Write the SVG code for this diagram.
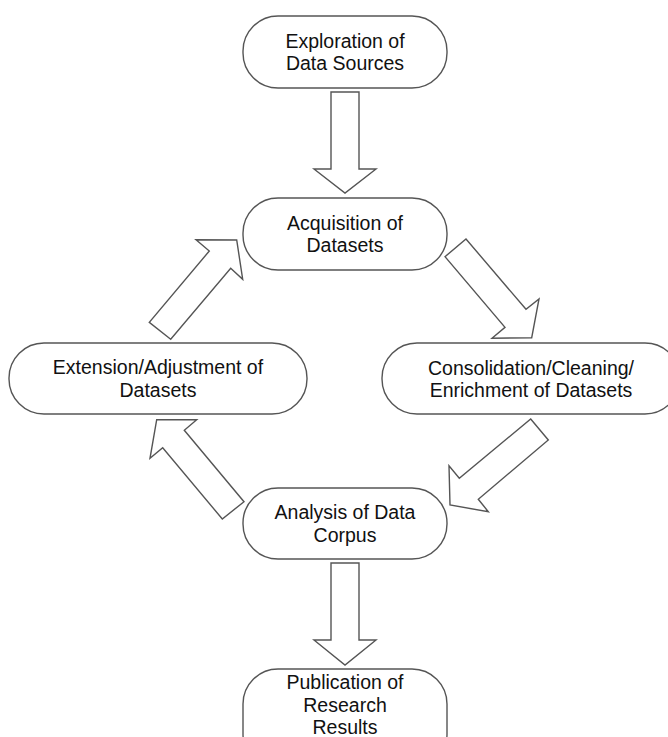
<svg xmlns="http://www.w3.org/2000/svg" width="668" height="737" viewBox="0 0 668 737">
<style>
.n{fill:#fff;stroke:#555;stroke-width:1.4}
.a{fill:#fff;stroke:#555;stroke-width:1.4;stroke-linejoin:miter}
text{font-family:"Liberation Sans",Arial,sans-serif;font-size:19.5px;fill:#111;text-anchor:middle}
</style>
<rect width="668" height="737" fill="#fff"/>
<g id="connectors">
<polygon class="a" points="331,92 359,92 359,169 376,169 345,193 314,169 331,169"/>
<polygon class="a" points="445,256.7 466,239 526,309.3 539,299 531.7,337.7 492,338.3 505,327.3"/>
<polygon class="a" points="530.7,419 548.3,440 478.3,499.3 488.3,511.7 450,505 449,465.7 459.3,478.3"/>
<polygon class="a" points="244,501.7 222.3,519 162.7,447.7 150,458.3 156.7,419.7 196.7,419.7 184.3,430.3"/>
<polygon class="a" points="170.7,339.3 149.3,322.3 209.3,251 196,239.7 236.7,240 242.7,279.3 230.7,268.3"/>
<polygon class="a" points="331,563 359,563 359,640 376,640 345,665 314,640 331,640"/>
</g>
<g id="n1"><rect class="n" x="243" y="16" width="204" height="72" rx="35"/><text x="345" y="48">Exploration of</text><text x="345" y="70">Data Sources</text></g>
<g id="n2"><rect class="n" x="243" y="198" width="204" height="72" rx="35"/><text x="345" y="230">Acquisition of</text><text x="345" y="252">Datasets</text></g>
<g id="n3"><rect class="n" x="382" y="343" width="298" height="71" rx="35"/><text x="531" y="375">Consolidation/Cleaning/</text><text x="531" y="397">Enrichment of Datasets</text></g>
<g id="n4"><rect class="n" x="9" y="343" width="298" height="71" rx="35"/><text x="158" y="374">Extension/Adjustment of</text><text x="158" y="397">Datasets</text></g>
<g id="n5"><rect class="n" x="243" y="488" width="204" height="71" rx="35"/><text x="345" y="519">Analysis of Data</text><text x="345" y="542">Corpus</text></g>
<g id="n6"><rect class="n" x="243" y="669" width="204" height="100" rx="35"/><text x="345" y="689">Publication of</text><text x="345" y="712">Research</text><text x="345" y="734">Results</text></g>
</svg>
